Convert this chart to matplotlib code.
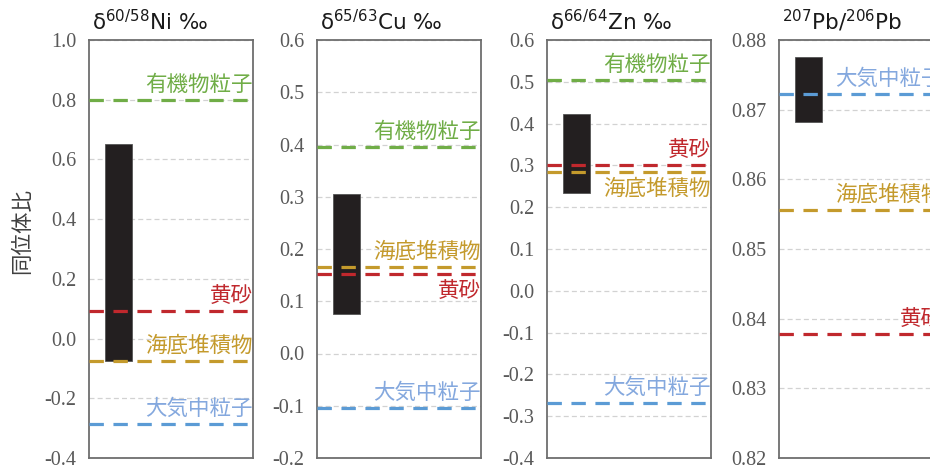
import matplotlib
matplotlib.use("Agg")
import matplotlib.pyplot as plt

plt.rcParams['font.family'] = ['Noto Sans CJK JP', 'DejaVu Sans']

# ---- data ----
titles = [r'$\mathregular{\delta^{60/58}}$Ni ‰', r'$\mathregular{\delta^{65/63}}$Cu ‰',
          r'$\mathregular{\delta^{66/64}}$Zn ‰', r'$\mathregular{^{207}}$Pb/$\mathregular{^{206}}$Pb']
bar_low = [-0.075, 0.075, 0.235, 0.8682]
bar_high = [0.65, 0.305, 0.423, 0.8776]
ylims = [(-0.4, 1.0), (-0.2, 0.6), (-0.4, 0.6), (0.82, 0.88)]
yticks = [
    [-0.4, -0.2, 0.0, 0.2, 0.4, 0.6, 0.8, 1.0],
    [-0.2, -0.1, 0.0, 0.1, 0.2, 0.3, 0.4, 0.5, 0.6],
    [-0.4, -0.3, -0.2, -0.1, 0.0, 0.1, 0.2, 0.3, 0.4, 0.5, 0.6],
    [0.82, 0.83, 0.84, 0.85, 0.86, 0.87, 0.88],
]
tick_fmt = ['{:.1f}', '{:.1f}', '{:.1f}', '{:.2f}']
sources = ['有機物粒子', '黄砂', '海底堆積物', '大気中粒子']
source_values = {
    '有機物粒子': [0.80, 0.395, 0.504, None],
    '黄砂': [0.092, 0.152, 0.301, 0.8378],
    '海底堆積物': [-0.075, 0.166, 0.285, 0.8556],
    '大気中粒子': [-0.285, -0.104, -0.269, 0.8722],
}
# label placement: +1 above line, -1 below line
label_side = {
    '有機物粒子': [1, 1, 1, 1],
    '黄砂': [1, -1, 1, 1],
    '海底堆積物': [1, 1, -1, 1],
    '大気中粒子': [1, 1, 1, 1],
}
line_colors = {'有機物粒子': '#70AD47', '黄砂': '#C0282D',
               '海底堆積物': '#C49A2C', '大気中粒子': '#5B9BD5'}
text_colors = {'有機物粒子': '#70AD47', '黄砂': '#C0282D',
               '海底堆積物': '#C49A2C', '大気中粒子': '#84A8DE'}
ylabel = '同位体比'

# ---- figure ----
W, H = 930, 466
fig = plt.figure(figsize=(W / 100, H / 100), dpi=100)
lefts = [89, 317, 547, 779]
ax_w = 164
top_px, bot_px = 40, 458

for i in range(4):
    ax = fig.add_axes([lefts[i] / W, 1 - bot_px / H, ax_w / W, (bot_px - top_px) / H])
    ax.set_xlim(0, 1)
    ax.set_ylim(*ylims[i])
    ax.set_yticks(yticks[i])
    ax.set_yticklabels([tick_fmt[i].format(v) for v in yticks[i]],
                       family='Liberation Serif', fontsize=14.5, color='#595959')
    ax.set_xticks([])
    ax.tick_params(axis='y', length=0, pad=9)
    for t in yticks[i]:
        ax.axhline(t, color='#D2D2D2', lw=0.9, ls=(0, (4, 2.5)), zorder=1)
    for s in ax.spines.values():
        s.set_color('#6E6E6E')
        s.set_linewidth(1.3)
    ax.bar([0.18], [bar_high[i] - bar_low[i]], bottom=[bar_low[i]], width=0.17,
           color='#231F20', edgecolor='#555555', linewidth=0.6, zorder=2)
    for src in sources:
        v = source_values[src][i]
        if v is None:
            continue
        ax.axhline(v, color=line_colors[src], lw=2.3, ls=(0, (4.5, 3.0)), zorder=3)
        side = label_side[src][i]
        ax.annotate(src, xy=(1.0, v), xycoords=('axes fraction', 'data'),
                    xytext=(0, 3 if side > 0 else -4), textcoords='offset points',
                    ha='right', va='bottom' if side > 0 else 'top',
                    fontsize=15.5, color=text_colors[src], zorder=4,
                    annotation_clip=False)
    ax.text(0.02, 1 + 10 / (bot_px - top_px), titles[i], transform=ax.transAxes,
            ha='left', va='baseline', fontsize=15.5, color='#1A1A1A',
            family=['DejaVu Sans'])

fig.text(22 / W, 1 - 231 / H, ylabel, rotation=90, ha='center', va='center',
         fontsize=15.5, color='#404040')

fig.savefig('out.png', dpi=100)
